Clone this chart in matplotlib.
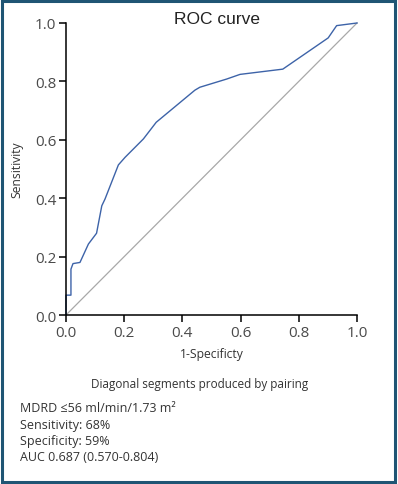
import matplotlib
matplotlib.use("Agg")
import matplotlib.pyplot as plt
from matplotlib.patches import Rectangle

# ROC curve points
fpr = [0.0, 0.0, 0.017, 0.017, 0.024, 0.048, 0.077, 0.105, 0.123, 0.134, 0.18,
       0.203, 0.266, 0.31, 0.443, 0.46, 0.552, 0.598, 0.745, 0.901, 0.93, 1.0]
tpr = [0.0, 0.068, 0.068, 0.157, 0.176, 0.18, 0.243, 0.28, 0.374, 0.397, 0.514,
       0.54, 0.603, 0.66, 0.77, 0.78, 0.808, 0.824, 0.842, 0.949, 0.991, 1.0]
ticks = [0.0, 0.2, 0.4, 0.6, 0.8, 1.0]
notes = ["MDRD \u226456 ml/min/1.73 m\u00b2", "Sensitivity: 68%",
         "Specificity: 59%", "AUC 0.687 (0.570-0.804)"]

plt.rcParams['font.family'] = ['Open Sans', 'DejaVu Sans']

fig = plt.figure(figsize=(3.98, 4.85), dpi=100)
ax = fig.add_axes([66 / 398, 1 - 316 / 485, 291 / 398, 292 / 485])

ax.plot([0, 1], [0, 1], c='#a8a8a8', lw=0.9, clip_on=False)
ax.plot(fpr, tpr, c='#3d63a8', lw=1.0, clip_on=False)

ax.set_xlim(0, 1)
ax.set_ylim(0, 1)
ax.set_xticks(ticks)
ax.set_yticks(ticks)
ax.set_xticklabels([f"{t:.1f}" for t in ticks])
ax.set_yticklabels([f"{t:.1f}" for t in ticks])
ax.tick_params(direction='out', length=5, width=1.1, labelsize=11, colors='black',
               labelcolor='#4a4a4a', pad=2)
for s in ['top', 'right']:
    ax.spines[s].set_visible(False)
for s in ['left', 'bottom']:
    ax.spines[s].set_linewidth(1.1)

ax.set_xlabel("1-Specificty", fontsize=8.7, color='#333333', labelpad=5)
ax.set_ylabel("Sensitivity", fontsize=8.7, color='#333333', labelpad=8)

fig.text(217 / 398, 1 - 20 / 485, "ROC curve", fontsize=12.5, family='Liberation Sans',
         ha='center', va='center', color='#222222')
fig.text(200 / 398, 1 - 385 / 485, "Diagonal segments produced by pairing",
         fontsize=8.5, ha='center', va='center', color='#333333')
for i, line in enumerate(notes):
    fig.text(20 / 398, 1 - (409 + 16.3 * i) / 485, line, fontsize=9,
             ha='left', va='center', color='#333333')

fig.patches.append(Rectangle((2 / 398, 2 / 485), 393 / 398, 481 / 485,
                             transform=fig.transFigure, fill=False,
                             ec='#1f5574', lw=2.2))

fig.savefig("out.png", dpi=100)
